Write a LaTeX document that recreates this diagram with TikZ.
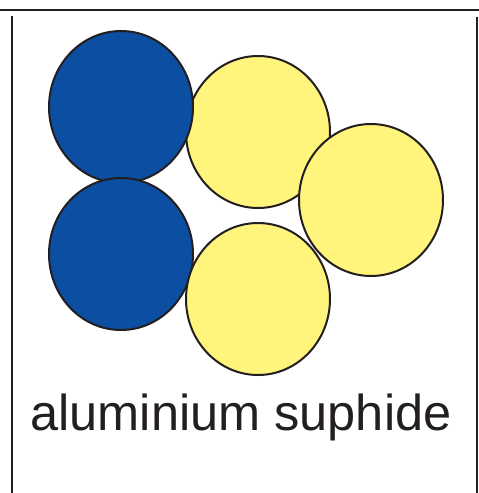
\documentclass[tikz,border=0pt]{standalone}
\usepackage{fontspec}
\setmainfont{Liberation Sans}
\usetikzlibrary{positioning, shapes.geometric}
\definecolor{alblue}{HTML}{0B4EA2}
\definecolor{syellow}{HTML}{FFF47C}
\definecolor{inkgray}{HTML}{231F20}

\begin{document}
\begin{tikzpicture}[x=1pt, y=-1pt,
    atom/.style={ellipse, draw=inkgray, line width=2pt,
      minimum width=144pt, minimum height=152pt, inner sep=0pt},
    alatom/.style={atom, fill=alblue},
    satom/.style={atom, fill=syellow},
  ]
    \useasboundingbox (0,0) rectangle (479,493);
    % frame
    \draw[inkgray, line width=2pt] (0,10) -- (479,10);
    \draw[inkgray, line width=2pt] (12,16) -- (12,493);
    \draw[inkgray, line width=2pt] (477,17) -- (477,493);
    % atoms
    \node[satom]  (s1) at (258,132) {};
    \node[alatom] (a1) at (121,107) {};
    \node[alatom] (a2) at (121,254) {};
    \node[satom]  (s2) at (371,200) {};
    \node[satom]  (s3) at (258,299) {};
    % label
    \node[inkgray, font=\fontsize{50.5}{56}\selectfont, anchor=base] (lbl) at (241,430) {aluminium suphide};
  \end{tikzpicture}
\end{document}
